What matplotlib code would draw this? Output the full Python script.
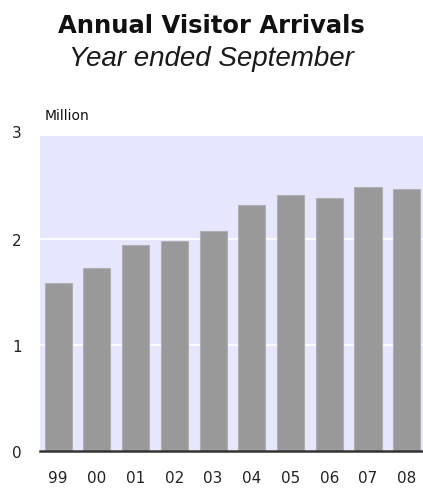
import numpy as np
import matplotlib.pyplot as plt
from matplotlib.transforms import blended_transform_factory

plt.rcParams["font.family"] = "DejaVu Sans"

# Annual visitor arrivals (million), year ended September
years = ["99", "00", "01", "02", "03", "04", "05", "06", "07", "08"]
arrivals = [1.58, 1.73, 1.94, 1.98, 2.07, 2.32, 2.41, 2.39, 2.49, 2.47]
y_ticks = [0, 1, 2, 3]

fig = plt.figure(figsize=(4.23, 4.89), dpi=100)
# plot area: x 40..423 px, y 137..452 px (top-down)
ax = fig.add_axes([40 / 423, 37 / 489, 383 / 423, 315 / 489])

x = np.arange(len(years))
ax.set_facecolor("#e6e6ff")
ax.bar(x, arrivals, width=0.7, color="#999999", edgecolor="#b0b0b0",
       linewidth=0.8, zorder=2)

# shaded area stops just below 3
ax.set_ylim(0, 2.97)
ax.set_xlim(-0.47, 9.42)
ax.set_yticks(y_ticks[:-1])
ax.set_xticks(x)
ax.set_xticklabels(years)
ax.yaxis.grid(True, color="white", linewidth=1.2, zorder=1)
ax.set_axisbelow(True)

for side in ["top", "right", "left"]:
    ax.spines[side].set_visible(False)
ax.spines["bottom"].set_color("#333333")
ax.spines["bottom"].set_linewidth(1.8)
ax.spines["bottom"].set_zorder(3)

ax.tick_params(axis="both", length=0, labelsize=11, colors="#222222")
ax.tick_params(axis="y", pad=13)
ax.tick_params(axis="x", pad=14)

# top tick label sits above the shaded area
trans = blended_transform_factory(ax.transAxes, ax.transData)
ax.text(-18 / 383, y_ticks[-1], str(y_ticks[-1]), transform=trans, ha="right",
        va="center", fontsize=11, color="#222222", clip_on=False)

fig.text(0.5, 1 - 33 / 489, "Annual Visitor Arrivals", ha="center", va="baseline",
         fontsize=17.5, fontweight="bold", color="#111111")
fig.text(0.5, 1 - 66 / 489, "Year ended September", ha="center", va="baseline",
         fontsize=20, style="italic", family="Liberation Sans", color="#1a1a1a")
fig.text(45 / 423, 1 - 120 / 489, "Million", ha="left", va="baseline",
         fontsize=10, color="#111111")

fig.savefig("out.png", dpi=100)
